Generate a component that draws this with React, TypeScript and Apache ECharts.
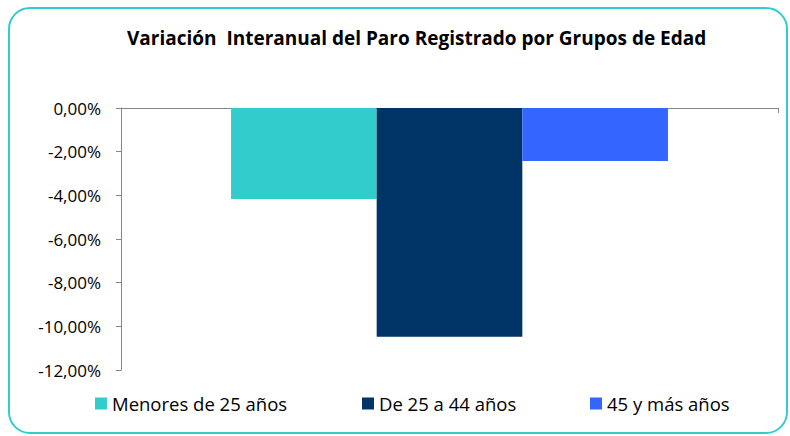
import React, { useEffect, useRef } from "react";
import * as echarts from "echarts";

const titleText = "Variación  Interanual del Paro Registrado por Grupos de Edad";
const categories = [""];
const seriesNames = ["Menores de 25 años", "De 25 a 44 años", "45 y más años"];
const seriesValues = [-4.17, -10.48, -2.43];
const seriesColors = ["#33CCCC", "#003366", "#3366FF"];
const legendLefts = [95, 362, 590];

export default function App() {
  const ref = useRef<HTMLDivElement>(null);
  useEffect(() => {
    if (!ref.current) return;
    const chart = echarts.init(ref.current, null, { renderer: "svg" });
    const font = "Open Sans";
    chart.setOption({
      animation: false,
      title: {
        text: titleText,
        left: 127,
        top: 28,
        padding: 0,
        textStyle: { fontFamily: font, fontWeight: "bold", fontSize: 19, color: "#000" },
      },
      legend: seriesNames.map((n, i) => ({
        data: [n],
        left: legendLefts[i],
        top: 394,
        padding: 0,
        itemWidth: 12,
        itemHeight: 12,
        itemGap: 6,
        icon: "rect",
        textStyle: { fontFamily: font, fontSize: 18.5, color: "#000" },
        selectedMode: false,
      })),
      grid: { left: 121, top: 108, width: 657, height: 262 },
      xAxis: {
        type: "category",
        data: categories,
        axisLine: { onZero: true, lineStyle: { color: "#868686", width: 1 } },
        axisTick: { show: true, length: 5, lineStyle: { color: "#868686" } },
        axisLabel: { show: false },
      },
      yAxis: {
        type: "value",
        min: -12,
        max: 0,
        interval: 2,
        axisLine: { show: true, lineStyle: { color: "#868686", width: 1 } },
        axisTick: { show: true, length: 5, lineStyle: { color: "#868686" } },
        splitLine: { show: false },
        axisLabel: {
          fontFamily: font,
          fontSize: 17,
          color: "#000",
          margin: 20,
          formatter: (v: number) => v.toFixed(2).replace(".", ",") + "%",
        },
      },
      series: seriesNames.map((n, i) => ({
        name: n,
        type: "bar",
        data: [seriesValues[i]],
        itemStyle: { color: seriesColors[i] },
        barGap: "0%",
        barCategoryGap: "33.5%",
      })),
    });
    return () => chart.dispose();
  }, []);
  return (
    <div
      style={{
        position: "absolute",
        left: 8,
        top: 7,
        width: 780,
        height: 427,
        border: "2px solid #33CCCC",
        borderRadius: 22,
        boxSizing: "border-box",
        background: "#fff",
        overflow: "hidden",
      }}
    >
      <div ref={ref} style={{ position: "absolute", left: -10, top: -9, width: 790, height: 436 }} />
    </div>
  );
}
